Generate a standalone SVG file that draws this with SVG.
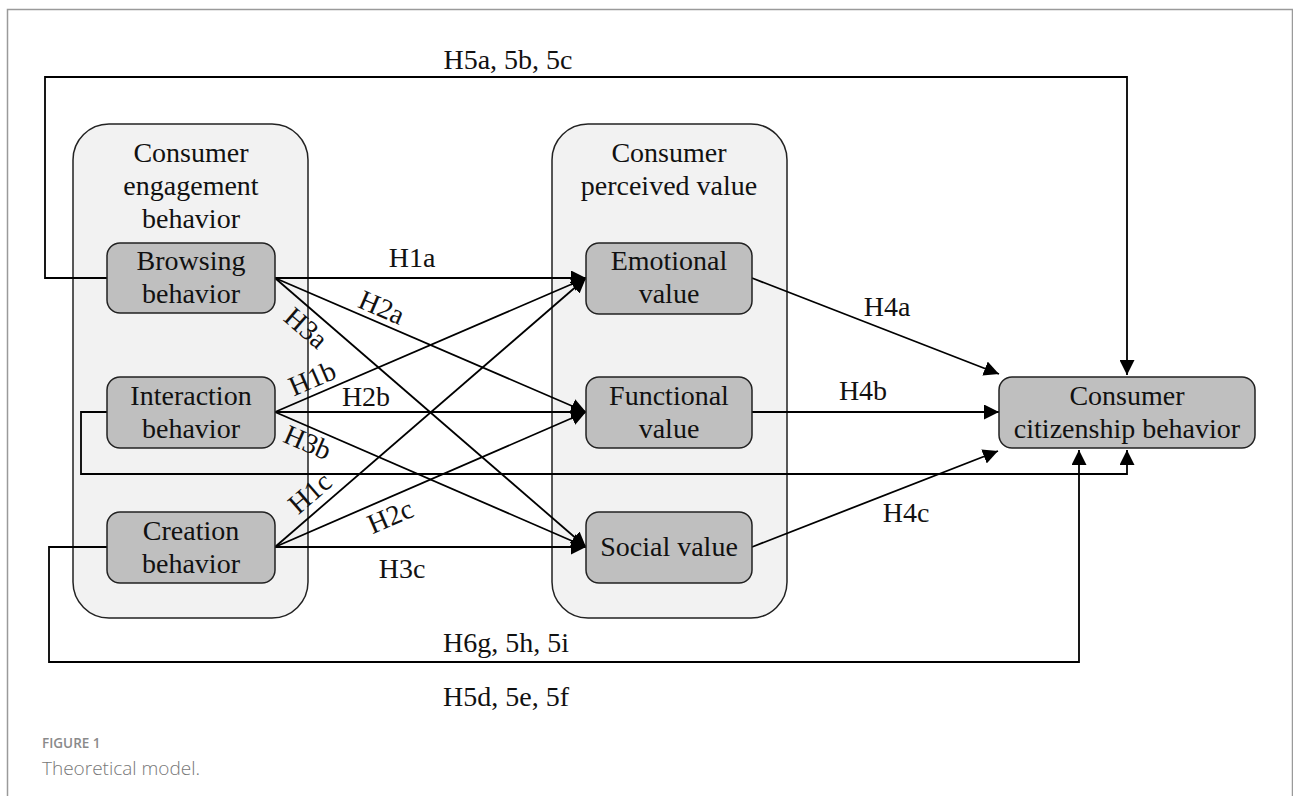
<svg xmlns="http://www.w3.org/2000/svg" width="1293" height="796" viewBox="0 0 1293 796">
<style>
.t{font-family:"Liberation Serif","Times New Roman",serif;font-size:28px;fill:#111;text-anchor:middle}
.grp{fill:#f2f2f2;stroke:#222;stroke-width:1.5}
.box{fill:#bfbfbf;stroke:#222;stroke-width:1.5}
.c{fill:none;stroke:#000;stroke-width:1.8}
.cap1{font-family:"Open Sans","Noto Sans",sans-serif;font-size:13.5px;font-weight:600;fill:#8a8a8a}
.cap2{font-family:"Open Sans","Noto Sans",sans-serif;font-size:19px;font-weight:300;fill:#777}
</style>
<defs>
<marker id="ah" viewBox="0 0 10 10" refX="10" refY="5" markerWidth="15" markerHeight="15" markerUnits="userSpaceOnUse" orient="auto">
<path d="M0,0 L10,5 L0,10 z" fill="#000"/>
</marker>
</defs>
<rect x="0" y="0" width="1293" height="796" fill="#fff"/>
<path d="M7.5,800 V9.5 H1292.5 V800" fill="none" stroke="#9a9a9a" stroke-width="1.5"/>

<g id="group-engagement">
<rect class="grp" x="73" y="124" width="235" height="494" rx="36"/>
<text class="t" x="191" y="162">Consumer</text>
<text class="t" x="191" y="195">engagement</text>
<text class="t" x="191" y="228">behavior</text>
</g>
<g id="group-value">
<rect class="grp" x="552" y="124" width="235" height="494" rx="36"/>
<text class="t" x="669" y="162">Consumer</text>
<text class="t" x="669" y="195">perceived value</text>
</g>

<g id="connectors">
<path class="c" d="M107,278 H45 V77 H1127 V375" marker-end="url(#ah)"/>
<path class="c" d="M107,412 H81 V474 H1127 V450" marker-end="url(#ah)"/>
<path class="c" d="M107,547 H49 V662 H1079 V450" marker-end="url(#ah)"/>
<path class="c" d="M275,278 L586,278" marker-end="url(#ah)"/>
<path class="c" d="M275,278 L586,412" marker-end="url(#ah)"/>
<path class="c" d="M275,278 L586,547" marker-end="url(#ah)"/>
<path class="c" d="M275,412 L586,278" marker-end="url(#ah)"/>
<path class="c" d="M275,412 L586,412" marker-end="url(#ah)"/>
<path class="c" d="M275,412 L586,547" marker-end="url(#ah)"/>
<path class="c" d="M275,547 L586,278" marker-end="url(#ah)"/>
<path class="c" d="M275,547 L586,412" marker-end="url(#ah)"/>
<path class="c" d="M275,547 L586,547" marker-end="url(#ah)"/>
<path class="c" d="M752,278 L999,374" marker-end="url(#ah)"/>
<path class="c" d="M752,412 L999,412" marker-end="url(#ah)"/>
<path class="c" d="M752,547 L998,451" marker-end="url(#ah)"/>
</g>

<g id="node-browsing">
<rect class="box" x="107" y="243" width="168" height="70" rx="13"/>
<text class="t" x="191" y="270">Browsing</text>
<text class="t" x="191" y="303">behavior</text>
</g>
<g id="node-interaction">
<rect class="box" x="107" y="377" width="168" height="71" rx="13"/>
<text class="t" x="191" y="405">Interaction</text>
<text class="t" x="191" y="438">behavior</text>
</g>
<g id="node-creation">
<rect class="box" x="107" y="512" width="168" height="71" rx="13"/>
<text class="t" x="191" y="540">Creation</text>
<text class="t" x="191" y="573">behavior</text>
</g>
<g id="node-emotional">
<rect class="box" x="586" y="243" width="166" height="71" rx="13"/>
<text class="t" x="669" y="270">Emotional</text>
<text class="t" x="669" y="303">value</text>
</g>
<g id="node-functional">
<rect class="box" x="586" y="377" width="166" height="71" rx="13"/>
<text class="t" x="669" y="405">Functional</text>
<text class="t" x="669" y="438">value</text>
</g>
<g id="node-social">
<rect class="box" x="586" y="512" width="166" height="71" rx="13"/>
<text class="t" x="669" y="556">Social value</text>
</g>
<g id="node-citizenship">
<rect class="box" x="999" y="377" width="256" height="71" rx="13"/>
<text class="t" x="1127" y="405">Consumer</text>
<text class="t" x="1127" y="438">citizenship behavior</text>
</g>

<g id="labels">
<text class="t" x="508" y="69">H5a, 5b, 5c</text>
<text class="t" x="412" y="267">H1a</text>
<text class="t" transform="translate(378,316) rotate(23.3)">H2a</text>
<text class="t" transform="translate(300,335) rotate(40.9)">H3a</text>
<text class="t" transform="translate(316,387) rotate(-23.3)">H1b</text>
<text class="t" x="366" y="406">H2b</text>
<text class="t" transform="translate(304,451) rotate(23.3)">H3b</text>
<text class="t" transform="translate(316,500) rotate(-40.9)">H1c</text>
<text class="t" transform="translate(394,525) rotate(-23.3)">H2c</text>
<text class="t" x="402" y="578">H3c</text>
<text class="t" x="887" y="316">H4a</text>
<text class="t" x="863" y="400">H4b</text>
<text class="t" x="906" y="522">H4c</text>
<text class="t" x="506" y="652">H6g, 5h, 5i</text>
<text class="t" x="506" y="706">H5d, 5e, 5f</text>
</g>
<text class="cap1" x="42" y="748">FIGURE 1</text>
<text class="cap2" x="42" y="775">Theoretical model.</text>
</svg>
